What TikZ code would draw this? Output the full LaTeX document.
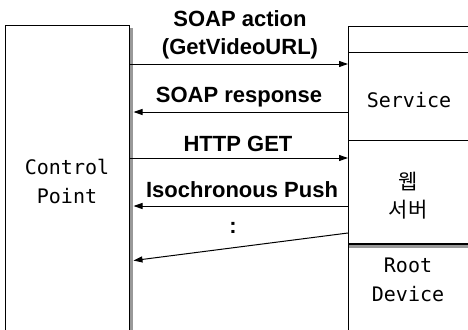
\documentclass[tikz,border=0pt]{standalone}
\usepackage{fontspec}
\setmainfont{Liberation Sans}
\newfontfamily\monofont{DejaVu Sans Mono}
\newfontfamily\krfont{Noto Sans CJK KR}
\usetikzlibrary{arrows.meta}
\begin{document}
\begin{tikzpicture}[x=1pt,y=-1pt,
  box/.style={draw, line width=1pt, inner sep=0pt, anchor=north west},
  msg/.style={draw, line width=1pt, -{Triangle[length=9pt,width=6pt]}},
  lbl/.style={font=\fontsize{22}{28}\selectfont\bfseries, align=center, inner sep=0pt},
  boxtext/.style={font=\fontsize{20}{29}\selectfont\monofont, align=center, inner sep=0pt},
  krtext/.style={font=\fontsize{21}{28}\selectfont\krfont, align=center, inner sep=0pt},
  shadow/.style={fill=black!40, draw=none}]
\useasboundingbox (0,0) rectangle (468,329);
\clip (0,0) rectangle (468,329);

% control point box with its drop shadow on the right
\fill[shadow] (129.5,28) rectangle (133,340);
\node[box, minimum width=124pt, minimum height=320pt] (cp) at (5,25) {};
\node[boxtext] (cpname) at (67,181) {Control\\Point};

% device box, running off to the right
\node[box, minimum width=140pt, minimum height=320pt] (dev) at (348,26) {};
\coordinate (d1) at (0,53);
\coordinate (d2) at (0,140);
\coordinate (d3) at (0,244);
\draw[line width=1pt] (dev.west |- d1) -- (dev.east |- d1);
\draw[line width=1pt] (dev.west |- d2) -- (dev.east |- d2);
\fill[shadow] (349,245) rectangle (480,248);
\draw[line width=1.4pt] (dev.west |- d3) -- (dev.east |- d3);
\node[boxtext] (svc) at (409,100) {Service};
\node[krtext] (web) at (408,196) {웹\\서버};
\node[boxtext] (root) at (408,280) {Root\\Device};

% messages between the two
\coordinate (m1) at (0,64);
\coordinate (m2) at (0,112);
\coordinate (m3) at (0,158);
\coordinate (m4) at (0,206);
\coordinate (m5) at (0,233);
\coordinate (m6) at (0,261);
\draw[msg] (cp.east |- m1) -- (dev.west |- m1);
\draw[msg, shorten >=3.5pt] (dev.west |- m2) -- (cp.east |- m2);
\draw[msg] (cp.east |- m3) -- (dev.west |- m3);
\draw[msg, shorten >=3.5pt] (dev.west |- m4) -- (cp.east |- m4);
\draw[msg, shorten >=3.5pt] (dev.west |- m5) -- (cp.east |- m6);

\node[lbl] (l1) at (240,35) {SOAP action\\(GetVideoURL)};
\node[lbl] (l2) at (239,97) {SOAP response};
\node[lbl] (l3) at (238,144) {HTTP GET};
\node[lbl] (l4) at (242,190) {Isochronous Push};
\node[lbl] (l5) at (233,228) {:};
\end{tikzpicture}
\end{document}
